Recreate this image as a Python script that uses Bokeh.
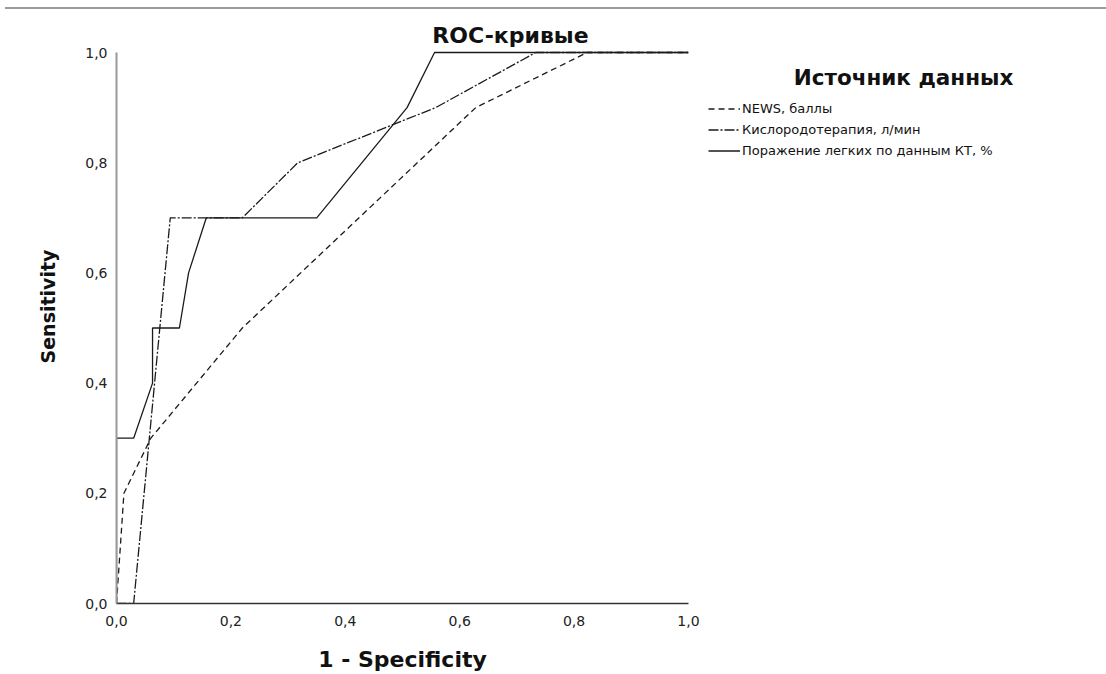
from bokeh.plotting import figure
from bokeh.models import Legend, LegendItem, Label, FixedTicker, Range1d, Div
from bokeh.layouts import column, row
from bokeh.embed import file_html
from bokeh.resources import INLINE

# ---- data ----
news_x = [0.0, 0.013, 0.06, 0.22, 0.628, 0.823, 1.0]
news_y = [0.0, 0.2, 0.30, 0.5, 0.9, 1.0, 1.0]

oxy_x = [0.0, 0.03, 0.094, 0.22, 0.317, 0.558, 0.733, 1.0]
oxy_y = [0.0, 0.0, 0.7, 0.7, 0.8, 0.9, 1.0, 1.0]

ct_x = [0.0, 0.0, 0.03, 0.063, 0.063, 0.11, 0.126, 0.157, 0.35, 0.508, 0.556, 1.0]
ct_y = [0.0, 0.3, 0.3, 0.4, 0.5, 0.5, 0.6, 0.7, 0.7, 0.9, 1.0, 1.0]

series_names = ["NEWS, баллы", "Кислородотерапия, л/мин", "Поражение легких по данным КТ, %"]
series_dash = ["6 4", "10 2 2 2", "solid"]
tick_values = [0.0, 0.2, 0.4, 0.6, 0.8, 1.0]
tick_labels = ["0,0", "0,2", "0,4", "0,6", "0,8", "1,0"]
title_text = "ROC-кривые"
legend_title = "Источник данных"
x_label = "1 - Specificity"
y_label = "Sensitivity"

BOLD_FONT = "DejaVu Sans"
FONT = "DejaVu Sans"
LINE_COLOR = "#1a1a1a"

# page geometry (pixels)
TOP = 9            # figures start below the grey rule
FIG_H = 674 - TOP
X0, X1 = 116, 688  # data 0 and 1 (page x)
Y0, Y1 = 603, 52   # data 0 and 1 (page y)
XS = X1 - X0
YS = Y0 - Y1
MAIN_W = 702       # width of the chart figure; legend figure fills the rest


def dx(px):
    return (px - X0) / XS


def dy(py):
    return (Y0 - py) / YS


p = figure(width=MAIN_W, height=FIG_H,
           x_range=Range1d(0, 1), y_range=Range1d(0, dy(TOP)),
           output_backend="svg", toolbar_location=None,
           min_border_left=X0, min_border_right=MAIN_W - X1,
           min_border_top=0, min_border_bottom=674 - Y0)
p.background_fill_color = "white"
p.border_fill_color = "white"
p.outline_line_color = None
p.grid.visible = False

for xs, ys, dash in ((news_x, news_y, series_dash[0]),
                     (oxy_x, oxy_y, series_dash[1]),
                     (ct_x, ct_y, series_dash[2])):
    p.line(xs, ys, line_color=LINE_COLOR, line_width=1.3, line_dash=dash)

for ax, lab in ((p.xaxis[0], x_label), (p.yaxis[0], y_label)):
    ax.ticker = FixedTicker(ticks=tick_values)
    ax.bounds = (0, 1)
    ax.major_label_overrides = {v: t for v, t in zip(tick_values, tick_labels)}
    ax.minor_tick_line_color = None
    ax.major_tick_in = 0
    ax.major_tick_out = 0
    ax.major_label_text_font = FONT
    ax.major_label_text_font_size = "14px"
    ax.major_label_text_color = "#222222"
    ax.axis_label = lab
    ax.axis_label_text_font = BOLD_FONT
    ax.axis_label_text_font_style = "bold"
    ax.axis_label_text_color = "#111111"

p.xaxis[0].axis_line_color = "#333333"
p.yaxis[0].axis_line_color = "#999999"
p.xaxis[0].axis_line_width = 1.5
p.yaxis[0].axis_line_width = 2
p.xaxis[0].axis_label_text_font_size = "22px"
p.yaxis[0].axis_label_text_font_size = "19px"
p.xaxis[0].major_label_standoff = 12
p.xaxis[0].axis_label_standoff = 18
p.yaxis[0].major_label_standoff = 9
p.yaxis[0].axis_label_standoff = 23

p.add_layout(Label(x=dx(510), y=dy(35), text=title_text,
                   text_align="center", text_baseline="middle",
                   text_font=BOLD_FONT, text_font_style="bold", text_font_size="22px",
                   text_color="#111111"))

# ---- legend panel (right-hand side); its frame is aligned with the chart frame ----
p2 = figure(width=1106 - MAIN_W, height=FIG_H,
            x_range=Range1d(dx(MAIN_W), dx(1106)), y_range=Range1d(0, dy(TOP)),
            output_backend="svg", toolbar_location=None,
            x_axis_type=None, y_axis_type=None,
            min_border_left=0, min_border_right=0, min_border_top=0,
            min_border_bottom=674 - Y0)
p2.background_fill_color = "white"
p2.border_fill_color = "white"
p2.outline_line_color = None
p2.grid.visible = False

nan = float("nan")
proxies = [p2.line(x=[nan], y=[nan], line_color=LINE_COLOR, line_width=1.3, line_dash=d)
           for d in series_dash]

legend = Legend(items=[LegendItem(label=n, renderers=[r]) for n, r in zip(series_names, proxies)],
                location=(708 - MAIN_W, Y0 - 161),
                border_line_color=None, background_fill_alpha=0,
                glyph_width=32, glyph_height=21, label_height=21,
                label_standoff=2, spacing=0, padding=0, margin=0,
                label_text_font=FONT, label_text_font_size="13px",
                label_text_color="#111111")
p2.add_layout(legend, "center")

p2.add_layout(Label(x=dx(903), y=dy(77), text=legend_title,
                    text_align="center", text_baseline="middle",
                    text_font=BOLD_FONT, text_font_style="bold", text_font_size="21.5px",
                    text_color="#111111"))

rule = Div(text="", width=1101, height=2, margin=(7, 0, 0, 5),
           styles={"background-color": "#9a9a9a"})

page = column(rule, row(p, p2, spacing=0), spacing=0)

open("out.html", "w").write(file_html(page, INLINE))
